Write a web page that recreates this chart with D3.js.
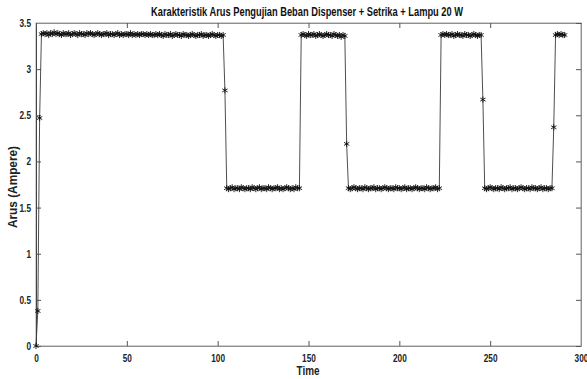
<!DOCTYPE html>
<html>
<head>
<meta charset="utf-8">
<script src="https://cdn.jsdelivr.net/npm/d3@7"></script>
<style>
  body { margin: 0; background: #fff; }
  text { font-family: "Liberation Sans", Arial, sans-serif; font-weight: bold; }
</style>
</head>
<body>
<svg id="chart" width="587" height="379"></svg>
<script>
var titleText = "Karakteristik Arus Pengujian Beban Dispenser + Setrika + Lampu 20 W";
var xLabel = "Time";
var yLabel = "Arus (Ampere)";
var xTicks = [0, 50, 100, 150, 200, 250, 300];
var yTicks = [0, 0.5, 1, 1.5, 2, 2.5, 3, 3.5];

// current readings, one per time step (0..291)
var current = [
  0, 0.38, 2.47,
  // high 3..103
  3.38,3.39,3.38,3.39,3.37,3.39,3.38,3.40,3.38,3.39,
  3.38,3.37,3.39,3.38,3.38,3.39,3.37,3.38,3.39,3.38,
  3.37,3.39,3.38,3.38,3.37,3.39,3.38,3.39,3.38,3.37,
  3.38,3.39,3.38,3.37,3.38,3.38,3.39,3.37,3.38,3.38,
  3.37,3.38,3.39,3.37,3.38,3.37,3.38,3.38,3.37,3.39,
  3.37,3.38,3.37,3.38,3.37,3.38,3.38,3.37,3.38,3.37,
  3.38,3.37,3.37,3.38,3.37,3.38,3.37,3.36,3.38,3.37,
  3.37,3.38,3.36,3.37,3.38,3.37,3.37,3.36,3.38,3.37,
  3.37,3.36,3.37,3.38,3.37,3.36,3.37,3.37,3.38,3.36,
  3.37,3.37,3.36,3.37,3.38,3.37,3.36,3.37,3.37,3.36,
  3.37,
  2.77,
  // low 105..145
  1.71,1.70,1.71,1.72,1.70,1.71,1.71,1.70,1.72,1.71,
  1.70,1.71,1.71,1.70,1.72,1.71,1.70,1.71,1.72,1.70,
  1.71,1.71,1.70,1.72,1.71,1.70,1.71,1.71,1.72,1.70,
  1.71,1.70,1.71,1.72,1.71,1.70,1.71,1.70,1.72,1.71,
  1.71,
  // high 146..170
  3.37,3.38,3.37,3.36,3.38,3.37,3.37,3.38,3.36,3.37,
  3.38,3.37,3.36,3.37,3.38,3.37,3.37,3.36,3.38,3.37,
  3.36,3.37,3.35,3.37,3.36,
  2.19,
  // low 172..222
  1.71,1.70,1.71,1.72,1.71,1.70,1.71,1.71,1.70,1.72,
  1.71,1.70,1.71,1.71,1.72,1.70,1.71,1.71,1.70,1.71,
  1.72,1.71,1.70,1.71,1.71,1.70,1.72,1.71,1.71,1.70,
  1.71,1.72,1.70,1.71,1.71,1.70,1.71,1.72,1.71,1.70,
  1.71,1.71,1.70,1.72,1.71,1.70,1.71,1.71,1.72,1.70,
  1.71,
  // high 223..245
  3.37,3.38,3.37,3.38,3.37,3.37,3.38,3.36,3.37,3.38,
  3.37,3.37,3.36,3.38,3.37,3.37,3.36,3.37,3.38,3.37,
  3.36,3.37,3.37,
  2.67,
  // low 247..284
  1.71,1.70,1.71,1.72,1.71,1.70,1.71,1.71,1.70,1.72,
  1.71,1.70,1.71,1.71,1.72,1.70,1.71,1.71,1.70,1.71,
  1.72,1.71,1.70,1.71,1.71,1.70,1.72,1.71,1.71,1.70,
  1.71,1.72,1.70,1.71,1.71,1.70,1.71,1.71,
  2.37,
  // high 286..291
  3.37,3.38,3.37,3.38,3.37,3.37
];
var time = current.map((d, i) => i);

// squeeze text horizontally so it looks like the narrow font of the original
function narrow(sel, k) {
    sel.each(function () {
        var t = d3.select(this);
        var x0 = +t.attr("x") || 0;
        t.attr("x", x0 / k).attr("transform", "scale(" + k + ",1)");
    });
}

function drawChart() {
    var left = 36, right = 581, top = 23, bottom = 346;
    var svg = d3.select("#chart");

    var x = d3.scaleLinear().domain([0, 300]).range([left, right]);
    var y = d3.scaleLinear().domain([0, 3.5]).range([bottom, top]);

    // box
    svg.append("rect")
        .attr("x", left).attr("y", top)
        .attr("width", right - left).attr("height", bottom - top)
        .attr("fill", "none").attr("stroke", "#a0a0a0").attr("stroke-width", 1);

    // bottom + left axes, ticks pointing inward
    var xAxis = svg.append("g").attr("transform", "translate(0," + bottom + ")")
        .call(d3.axisBottom(x).tickValues(xTicks).tickSizeInner(-5).tickSizeOuter(0).tickPadding(8));
    var yAxis = svg.append("g").attr("transform", "translate(" + left + ",0)")
        .call(d3.axisLeft(y).tickValues(yTicks).tickSizeInner(-5).tickSizeOuter(0).tickPadding(5)
            .tickFormat(d3.format("~g")));
    // mirrored ticks on top + right
    var xTop = svg.append("g").attr("transform", "translate(0," + top + ")")
        .call(d3.axisTop(x).tickValues(xTicks).tickSizeInner(-5).tickSizeOuter(0).tickFormat(""));
    var yRight = svg.append("g").attr("transform", "translate(" + right + ",0)")
        .call(d3.axisRight(y).tickValues(yTicks).tickSizeInner(-5).tickSizeOuter(0).tickFormat(""));

    [xAxis, yAxis, xTop, yRight].forEach(g => {
        g.select(".domain").attr("stroke", "#8f8f8f");
        g.selectAll(".tick line").attr("stroke", "#555");
        g.selectAll("text").attr("fill", "#222").attr("font-size", 11)
            .style("font-family", '"Liberation Sans", Arial, sans-serif');
    });
    yAxis.select(".domain").attr("stroke", "#444");
    narrow(xAxis.selectAll("text"), 0.75);
    narrow(yAxis.selectAll("text"), 0.75);

    // line
    var line = d3.line().x((d, i) => x(time[i])).y(d => y(d));
    svg.append("path")
        .datum(current)
        .attr("d", line)
        .attr("fill", "none")
        .attr("stroke", "#3a3a3a")
        .attr("stroke-width", 0.9);

    // asterisk markers
    var sym = d3.symbol().type(d3.symbolAsterisk).size(26);
    svg.append("g").selectAll("path")
        .data(current)
        .enter()
        .append("path")
        .attr("transform", (d, i) => "translate(" + x(time[i]) + "," + y(d) + ")")
        .attr("d", sym)
        .attr("fill", "none")
        .attr("stroke", "#111")
        .attr("stroke-width", 0.9);

    svg.append("text")
        .attr("x", 307).attr("y", 16)
        .attr("text-anchor", "middle")
        .attr("font-size", 12)
        .attr("textLength", 312)
        .attr("lengthAdjust", "spacingAndGlyphs")
        .attr("fill", "#111")
        .text(titleText);

    svg.append("text")
        .attr("x", 308).attr("y", 375)
        .attr("text-anchor", "middle")
        .attr("font-size", 12.5)
        .attr("textLength", 23)
        .attr("lengthAdjust", "spacingAndGlyphs")
        .attr("fill", "#222")
        .text(xLabel);

    svg.append("text")
        .attr("transform", "translate(17,187) rotate(-90)")
        .attr("text-anchor", "middle")
        .attr("font-size", 12.5)
        .attr("textLength", 82)
        .attr("lengthAdjust", "spacingAndGlyphs")
        .attr("fill", "#222")
        .text(yLabel);
}

drawChart();
</script>
</body>
</html>
